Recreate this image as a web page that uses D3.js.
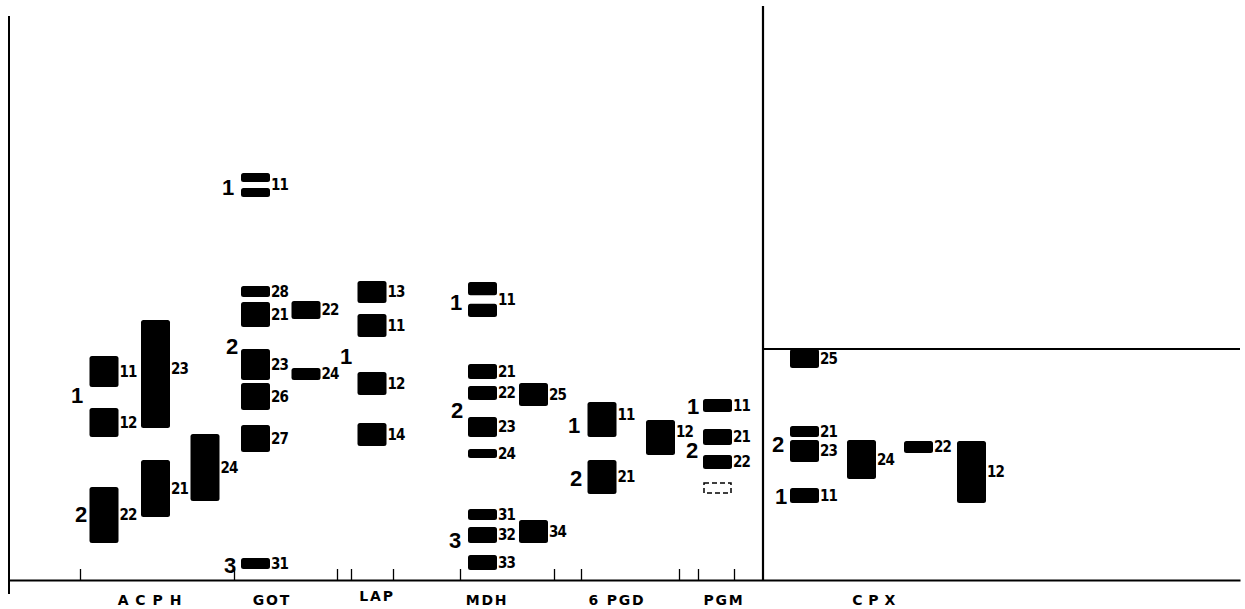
<!DOCTYPE html>
<html>
<head>
<meta charset="utf-8">
<script src="https://cdn.jsdelivr.net/npm/d3@7"></script>
<style>
  body { margin: 0; background: #fff; }
  svg text { font-family: "Liberation Sans", Arial, sans-serif; font-weight: bold; fill: #000; }
  svg text.band { font-family: "DejaVu Sans Condensed", "DejaVu Sans", sans-serif; }
  svg text.enz { font-family: "DejaVu Sans", sans-serif; }
</style>
</head>
<body>
<svg id="chart" width="1245" height="609"></svg>
<script>
// enzyme systems along the bottom, and the lane centres (x units) of each column
var enzymes = ["A C P H", "GOT", "LAP", "MDH", "6 PGD", "PGM", "C P X"]
var enzymeX = [14.1, 26.3, 36.8, 47.8, 60.8, 71.5, 86.5]
var lanes = {
  A1: 9.5, A2: 14.65, A3: 19.6,
  G1: 24.65, G2: 29.7,
  L1: 36.3,
  M1: 47.35, M2: 52.45,
  P1: 59.3, P2: 65.15,
  Q1: 70.85,
  C1: 79.55, C2: 85.25, C3: 90.95, C4: 96.25
}
// lane separator ticks on the base line
var tickPos = [7.1, 22.5, 32.8, 34.2, 38.4, 45.1, 54.5, 57.2, 67.0, 68.9, 72.5]

// bands: [lane, top mobility, bottom mobility, label, split(doublet), label shift]
var acphBands = [
  ["A1", 22.4, 19.3, "11"], ["A1", 17.2, 14.3, "12"], ["A2", 26.0, 15.2, "23", false, 0.5],
  ["A2", 12.0, 6.3, "21"], ["A3", 14.6, 7.9, "24"], ["A1", 9.3, 3.7, "22"]
]
var gotBands = [
  ["G1", 40.7, 38.3, "11", true], ["G1", 29.4, 28.3, "28"], ["G1", 27.8, 25.3, "21"],
  ["G2", 27.9, 26.1, "22"], ["G1", 23.1, 20.0, "23"], ["G2", 21.2, 20.0, "24"],
  ["G1", 19.7, 17.0, "26"], ["G1", 15.5, 12.8, "27"], ["G1", 2.2, 1.1, "31"]
]
var lapBands = [
  ["L1", 29.9, 27.7, "13"], ["L1", 26.6, 24.3, "11"], ["L1", 20.8, 18.5, "12"], ["L1", 15.7, 13.4, "14"]
]
var mdhBands = [
  ["M1", 29.8, 26.3, "11", true], ["M1", 21.6, 20.1, "21"], ["M1", 19.4, 18.0, "22"],
  ["M2", 19.7, 17.4, "25"], ["M1", 16.3, 14.3, "23"], ["M1", 13.1, 12.2, "24"],
  ["M1", 7.1, 6.0, "31"], ["M1", 5.3, 3.7, "32"], ["M2", 6.0, 3.7, "34"], ["M1", 2.5, 1.0, "33"]
]
var pgdBands = [
  ["P1", 17.8, 14.3, "11", false, 0.5], ["P2", 16.0, 12.5, "12", false, 0.6], ["P1", 12.0, 8.6, "21"]
]
var pgmBands = [
  ["Q1", 18.1, 16.8, "11"], ["Q1", 15.1, 13.5, "21"], ["Q1", 12.5, 11.1, "22"]
]
var pgmNull = [["Q1", 9.7, 8.7]]
var cpxBands = [
  ["C1", 23.1, 21.2, "25"], ["C1", 15.4, 14.3, "21"], ["C1", 14.0, 11.8, "23"],
  ["C1", 9.2, 7.7, "11"], ["C2", 14.0, 10.1, "24"], ["C3", 13.9, 12.7, "22"],
  ["C4", 13.9, 7.7, "12"]
]

// locus numbers: [text, x, y]
var loci = [
  ["1", 6.8, 18.5], ["2", 7.2, 6.6],
  ["1", 21.9, 39.3], ["2", 22.3, 23.4], ["3", 22.1, 1.5],
  ["1", 33.7, 22.4],
  ["1", 44.7, 27.8], ["2", 44.8, 17.0], ["3", 44.6, 4.0],
  ["1", 56.5, 15.5], ["2", 56.7, 10.2],
  ["1", 68.4, 17.4], ["2", 68.3, 13.0],
  ["2", 76.9, 13.6], ["1", 77.2, 8.4]
]

var svg = d3.select("#chart")
var x = d3.scaleLinear().domain([0, 123.1]).range([9, 1240])
var y = d3.scaleLinear().domain([0, 56.4]).range([580, 16])
var laneW = 2.9
var halfW = (x(laneW) - x(0)) / 2

// base line with lane ticks
var axis = d3.axisBottom(x).tickValues(tickPos).tickSize(-11).tickSizeOuter(0).tickFormat("")
var gAxis = svg.append("g").attr("transform", "translate(0," + y(0) + ")").call(axis)
gAxis.select(".domain").attr("stroke", "#000").attr("stroke-width", 2.2)
gAxis.selectAll(".tick line").attr("stroke", "#000").attr("stroke-width", 1.3)

// left edge, divider and CPX top line
svg.append("line").attr("x1", x(0)).attr("x2", x(0)).attr("y1", y(56.4)).attr("y2", y(0) + 14)
  .attr("stroke", "#000").attr("stroke-width", 2)
svg.append("line").attr("x1", x(75.4)).attr("x2", x(75.4)).attr("y1", y(57.4)).attr("y2", y(0))
  .attr("stroke", "#000").attr("stroke-width", 2.2)
svg.append("line").attr("x1", x(75.4)).attr("x2", x(123.1)).attr("y1", y(23.1)).attr("y2", y(23.1))
  .attr("stroke", "#000").attr("stroke-width", 2.2)

var allBands = [].concat(acphBands, gotBands, lapBands, mdhBands, pgdBands, pgmBands, cpxBands)

// split each doublet into two rects
var rects = []
allBands.forEach(b => {
  var cx = x(lanes[b[0]]), top = y(b[1]), bot = y(b[2])
  if (b[4]) {
    var h = (bot - top) * 0.38
    rects.push({ cx: cx, top: top, h: h })
    rects.push({ cx: cx, top: bot - h, h: h })
  } else {
    rects.push({ cx: cx, top: top, h: bot - top })
  }
})

svg.append("g").selectAll("rect")
  .data(rects)
  .enter()
  .append("rect")
    .attr("x", d => d.cx - halfW)
    .attr("y", d => d.top)
    .attr("width", halfW * 2)
    .attr("height", d => d.h)
    .attr("rx", d => Math.min(2.5, d.h / 2))
    .attr("fill", "#000")

svg.append("g").selectAll("text")
  .data(allBands)
  .enter()
  .append("text")
    .attr("class", "band")
    .attr("x", d => x(lanes[d[0]]) + halfW + 1)
    .attr("y", d => y((d[1] + d[2]) / 2 + (d[5] || 0)))
    .attr("dy", "0.36em")
    .attr("font-size", 15)
    .attr("letter-spacing", -0.8)
    .text(d => d[3])

// faint (null) PGM band
svg.append("g").selectAll("rect")
  .data(pgmNull)
  .enter()
  .append("rect")
    .attr("x", d => x(lanes[d[0]]) - halfW + 1)
    .attr("y", d => y(d[1]))
    .attr("width", halfW * 2 - 2)
    .attr("height", d => y(d[2]) - y(d[1]))
    .attr("fill", "none")
    .attr("stroke", "#000")
    .attr("stroke-width", 1.5)
    .attr("stroke-dasharray", "5,3")

svg.append("g").selectAll("text")
  .data(loci)
  .enter()
  .append("text")
    .attr("x", d => x(d[1]))
    .attr("y", d => y(d[2]))
    .attr("dy", "0.36em")
    .attr("text-anchor", "middle")
    .attr("font-size", 22)
    .text(d => d[0])

svg.append("g").selectAll("text")
  .data(enzymes)
  .enter()
  .append("text")
    .attr("class", "enz")
    .attr("x", (d, i) => x(enzymeX[i]))
    .attr("y", d => d === "LAP" ? 601 : 605)
    .attr("text-anchor", "middle")
    .attr("font-size", 14)
    .attr("letter-spacing", (d, i) => i === 0 ? 1 : i === 6 ? 0.5 : 1.8)
    .text(d => d)
</script>
</body>
</html>
